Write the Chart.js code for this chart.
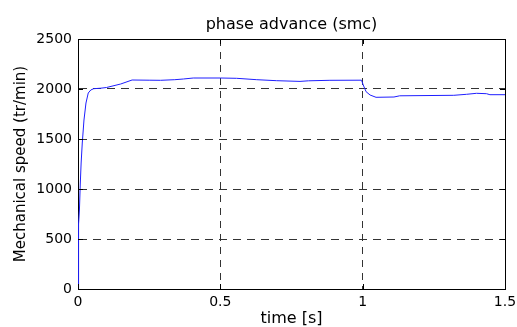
<!DOCTYPE html>
<html>
<head>
<meta charset="utf-8">
<title>phase advance (smc)</title>
<script src="https://cdn.jsdelivr.net/npm/chart.js@4.4.1/dist/chart.umd.min.js"></script>
<style>
    html, body { margin: 0; padding: 0; background: #fff; }
    #speedChart { display: block; }
</style>
</head>
<body>
<canvas id="speedChart" width="517" height="327"></canvas>
<script>
// Time samples [s]
const timeValues = [0, 0.001, 0.003, 0.005, 0.008, 0.011, 0.015, 0.021, 0.028, 0.036, 0.045,
    0.055, 0.08, 0.10, 0.15, 0.19, 0.25, 0.29, 0.34, 0.37, 0.405, 0.5, 0.557, 0.628, 0.698,
    0.78, 0.81, 0.885, 0.996, 1.002, 1.012, 1.026, 1.047, 1.11, 1.13, 1.32, 1.365, 1.40,
    1.435, 1.447, 1.5];
// Mechanical speed [tr/min]
const speedValues = [0, 420, 650, 790, 1050, 1260, 1460, 1690, 1860, 1960, 1990,
    2003, 2008, 2015, 2050, 2090, 2088, 2087, 2093, 2100, 2110, 2110, 2107, 2093, 2083,
    2076, 2082, 2087, 2088, 2040, 1973, 1940, 1917, 1920, 1932, 1937, 1947, 1957,
    1953, 1943, 1943];
const xTicks = [0, 0.5, 1, 1.5];
const yTicks = [0, 500, 1000, 1500, 2000, 2500];

Chart.defaults.font.family = "'DejaVu Sans', sans-serif";
Chart.defaults.color = '#000';

// MATLAB style box ticks pointing inwards
const frameTicks = {
    id: 'frameTicks',
    afterDatasetsDraw(chart) {
        const { ctx, chartArea: a, scales: { x, y } } = chart;
        ctx.save();
        ctx.strokeStyle = '#000';
        ctx.lineWidth = 1;
        ctx.beginPath();
        xTicks.forEach(v => {
            const px = Math.round(x.getPixelForValue(v)) + 0.5;
            ctx.moveTo(px, a.bottom); ctx.lineTo(px, a.bottom - 5);
            ctx.moveTo(px, a.top); ctx.lineTo(px, a.top + 5);
        });
        yTicks.forEach(v => {
            const py = Math.round(y.getPixelForValue(v)) + 0.5;
            ctx.moveTo(a.left, py); ctx.lineTo(a.left + 5, py);
            ctx.moveTo(a.right, py); ctx.lineTo(a.right - 5, py);
        });
        ctx.stroke();
        ctx.restore();
    }
};

new Chart(document.getElementById('speedChart'), {
    type: 'line',
    data: {
        datasets: [{
            data: timeValues.map((t, i) => ({ x: t, y: speedValues[i] })),
            borderColor: 'rgb(30,30,255)',
            borderWidth: 1,
            pointRadius: 0,
            tension: 0,
            fill: false
        }]
    },
    options: {
        responsive: false,
        animation: false,
        layout: { padding: { left: 0, right: 12, top: 0, bottom: 0 } },
        plugins: {
            legend: { display: false },
            tooltip: { enabled: false }
        },
        scales: {
            x: {
                type: 'linear',
                min: 0,
                max: 1.5,
                afterBuildTicks: s => { s.ticks = xTicks.map(v => ({ value: v })); },
                afterFit: s => { s.height = 38; s.paddingRight = 0; },
                ticks: { padding: 5, font: { size: 14 }, maxRotation: 0, callback: v => String(v) },
                grid: { color: '#333', drawTicks: false },
                border: { display: true, color: '#000', dash: [7, 6] },
                title: { display: true, text: 'time [s]', font: { size: 16, lineHeight: 1 }, padding: { top: 0, bottom: 0 } }
            },
            x2: {
                type: 'linear',
                position: 'top',
                min: 0,
                max: 1.5,
                afterFit: s => { s.height = 39; s.paddingRight = 0; },
                ticks: { display: false },
                grid: { display: false },
                border: { display: true, color: '#000' },
                title: { display: true, text: 'phase advance (smc)', font: { size: 16 }, padding: { top: 15, bottom: 0 } }
            },
            y: {
                type: 'linear',
                min: 0,
                max: 2500,
                afterBuildTicks: s => { s.ticks = yTicks.map(v => ({ value: v })); },
                afterFit: s => { s.width = 78; },
                ticks: { padding: 6, font: { size: 14 }, callback: v => String(v) },
                grid: { color: '#333', drawTicks: false },
                border: { display: true, color: '#000', dash: [8, 6] },
                title: { display: true, text: 'Mechanical speed (tr/min)', font: { size: 15 }, padding: { top: 12, bottom: 0 } }
            },
            y2: {
                type: 'linear',
                position: 'right',
                min: 0,
                max: 2500,
                afterFit: s => { s.width = 0; },
                ticks: { display: false },
                grid: { display: false },
                border: { display: true, color: '#000' }
            }
        }
    },
    plugins: [frameTicks]
});
</script>
</body>
</html>
